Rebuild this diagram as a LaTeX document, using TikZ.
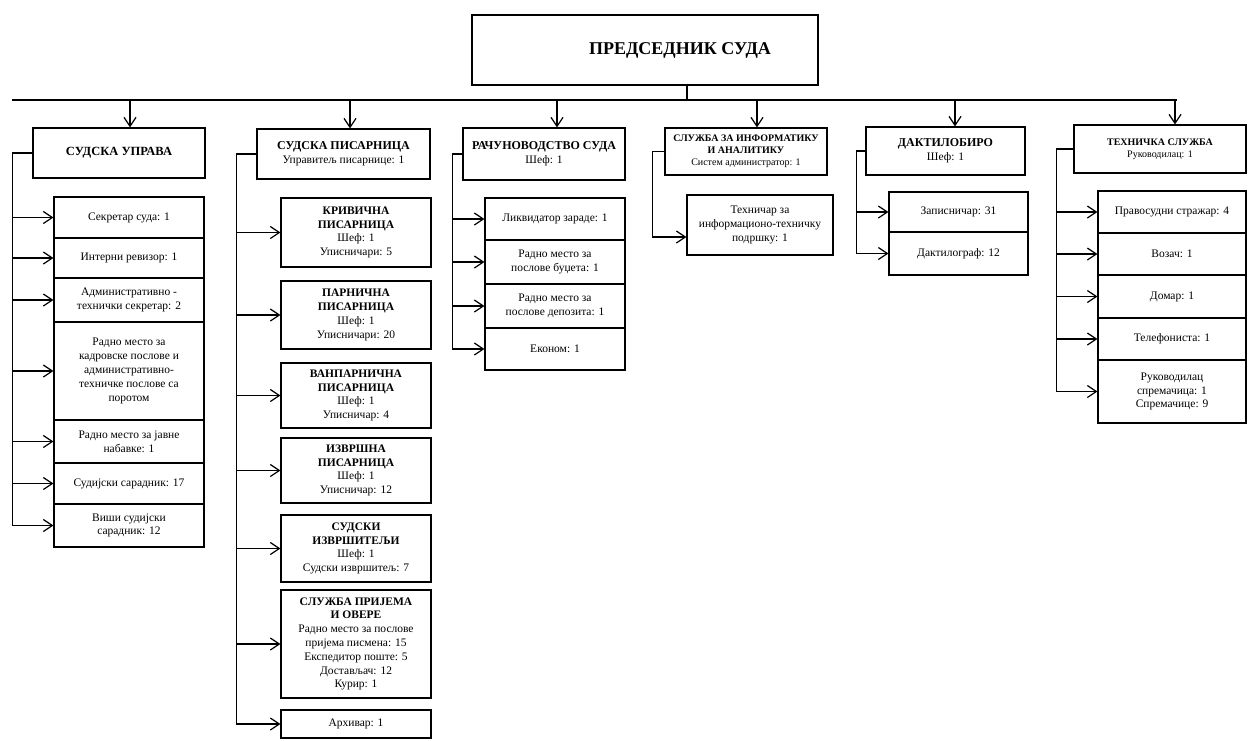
\documentclass[tikz,border=0pt]{standalone}
\usepackage{fontspec}
\setmainfont{Liberation Serif}
\usetikzlibrary{arrows.meta,calc}
\begin{document}
\begin{tikzpicture}[x=1pt,y=-1pt,
  box/.style={draw, line width=1.2pt, align=center, inner sep=2pt, font=\fontsize{11.5}{13.8}\selectfont},
  sm/.style={box, font=\fontsize{10}{12}\selectfont},
  arr/.style={line width=1.2pt, -{Straight Barb[length=9pt,width=12pt,line width=1.2pt]}},
  ln/.style={line width=1.2pt},
  c1/.style={box, minimum width=150},
  c2/.style={box, minimum width=150},
  c3/.style={box, minimum width=140},
  c5/.style={box, minimum width=139},
  c6/.style={box, minimum width=148}]
\useasboundingbox (0,0) rectangle (1249,740);

% top
\node[box, minimum width=346, minimum height=70] (top) at (645,50)
  {\hspace*{70pt}\fontsize{18}{21}\selectfont\bfseries ПРЕДСЕДНИК СУДА};
\coordinate (busL) at (12,100);
\coordinate (busR) at (1177,100);

% headers
\node[box, minimum width=172, minimum height=50] (h1) at (119,153) {\fontsize{12.5}{15}\selectfont\textbf{СУДСКА УПРАВА}};
\node[box, minimum width=173, minimum height=50] (h2) at (343.5,154) {\textbf{\fontsize{12}{14}\selectfont СУДСКА ПИСАРНИЦА}\\Управитељ писарнице: 1};
\node[box, minimum width=162, minimum height=52] (h3) at (544,154) {\textbf{\fontsize{12}{14}\selectfont РАЧУНОВОДСТВО СУДА}\\Шеф: 1};
\node[sm, minimum width=162, minimum height=47] (h4) at (746,151.5) {\textbf{СЛУЖБА ЗА ИНФОРМАТИКУ}\\\textbf{И АНАЛИТИКУ}\\Систем администратор: 1};
\node[box, minimum width=159, minimum height=48] (h5) at (945.5,151) {\textbf{\fontsize{12}{14}\selectfont ДАКТИЛОБИРО}\\Шеф: 1};
\node[sm, minimum width=172, minimum height=48] (h6) at (1160,149) {\textbf{ТЕХНИЧКА СЛУЖБА}\\Руководилац: 1};

% column 1
\node[c1, minimum height=41] (b11) at (129,217.5) {Секретар суда: 1};
\node[c1, minimum height=40] (b12) at (129,258) {Интерни ревизор: 1};
\node[c1, minimum height=44] (b13) at (129,300) {Административно -\\технички секретар: 2};
\node[c1, minimum height=98] (b14) at (129,371) {Радно место за\\кадровске послове и\\административно-\\техничке послове са\\поротом};
\node[c1, minimum height=43] (b15) at (129,441.5) {Радно место за јавне\\набавке: 1};
\node[c1, minimum height=41] (b16) at (129,483.5) {Судијски сарадник: 17};
\node[c1, minimum height=43] (b17) at (129,525.5) {Виши судијски\\сарадник: 12};

% column 2
\node[c2, minimum height=69] (b21) at (356,232.5) {\textbf{КРИВИЧНА}\\\textbf{ПИСАРНИЦА}\\Шеф: 1\\Уписничари: 5};
\node[c2, minimum height=68] (b22) at (356,315) {\textbf{ПАРНИЧНА}\\\textbf{ПИСАРНИЦА}\\Шеф: 1\\Уписничари: 20};
\node[c2, minimum height=65] (b23) at (356,395.5) {\textbf{ВАНПАРНИЧНА}\\\textbf{ПИСАРНИЦА}\\Шеф: 1\\Уписничар: 4};
\node[c2, minimum height=65] (b24) at (356,470.5) {\textbf{ИЗВРШНА}\\\textbf{ПИСАРНИЦА}\\Шеф: 1\\Уписничар: 12};
\node[c2, minimum height=67] (b25) at (356,548.5) {\textbf{СУДСКИ}\\\textbf{ИЗВРШИТЕЉИ}\\Шеф: 1\\Судски извршитељ: 7};
\node[c2, minimum height=108] (b26) at (356,644) {\textbf{СЛУЖБА ПРИЈЕМА}\\\textbf{И ОВЕРЕ}\\Радно место за послове\\пријема писмена: 15\\Експедитор поште: 5\\Достављач: 12\\Курир: 1};
\node[c2, minimum height=28] (b27) at (356,724) {Архивар: 1};

% column 3
\node[c3, minimum height=42] (b31) at (555,219) {Ликвидатор зараде: 1};
\node[c3, minimum height=44] (b32) at (555,262) {Радно место за\\послове буџета: 1};
\node[c3, minimum height=44] (b33) at (555,306) {Радно место за\\послове депозита: 1};
\node[c3, minimum height=42] (b34) at (555,349) {Економ: 1};

% column 4
\node[box, minimum width=146, minimum height=60] (b41) at (760,225) {Техничар за\\информационо-техничку\\подршку: 1};

% column 5
\node[c5, minimum height=40] (b51) at (958.5,212) {Записничар: 31};
\node[c5, minimum height=43] (b52) at (958.5,253.5) {Дактилограф: 12};

% column 6
\node[c6, minimum height=42] (b61) at (1172,212) {Правосудни стражар: 4};
\node[c6, minimum height=42] (b62) at (1172,254) {Возач: 1};
\node[c6, minimum height=43] (b63) at (1172,296.5) {Домар: 1};
\node[c6, minimum height=42] (b64) at (1172,339) {Телефониста: 1};
\node[c6, minimum height=63] (b65) at (1172,391.5) {Руководилац\\спремачица: 1\\Спремачице: 9};

% top connectors
\draw[ln] ([xshift=42pt]top.south) -- ([xshift=42pt]top.south |- busL);
\draw[ln] (busL) -- (busR);
\draw[arr] ([xshift=11pt]h1.north |- busL) -- ([xshift=11pt]h1.north);
\draw[arr] ([xshift=6.5pt]h2.north |- busL) -- ([xshift=6.5pt]h2.north);
\draw[arr] ([xshift=13pt]h3.north |- busL) -- ([xshift=13pt]h3.north);
\draw[arr] ([xshift=11pt]h4.north |- busL) -- ([xshift=11pt]h4.north);
\draw[arr] ([xshift=9.5pt]h5.north |- busL) -- ([xshift=9.5pt]h5.north);
\draw[arr] ([xshift=15pt]h6.north |- busL) -- ([xshift=15pt]h6.north);

% column connectors
\foreach \b in {b11,b12,b13,b14,b15,b16,b17}
  \draw[arr] (h1.west) -- ++(-20,0) |- (\b.west);
\foreach \b in {b21,b22,b23,b24,b25,b26,b27}
  \draw[arr] (h2.west) -- ++(-20,0) |- (\b.west);
\foreach \b in {b31,b32,b33,b34}
  \draw[arr] (h3.west) -- ++(-10,0) |- (\b.west);
\draw[arr] (h4.west) -- ++(-12,0) |- ([yshift=-12pt]b41.west);
\foreach \b in {b51,b52}
  \draw[arr] (h5.west) -- ++(-9,0) |- (\b.west);
\foreach \b in {b61,b62,b63,b64,b65}
  \draw[arr] (h6.west) -- ++(-17,0) |- (\b.west);
\end{tikzpicture}
\end{document}
